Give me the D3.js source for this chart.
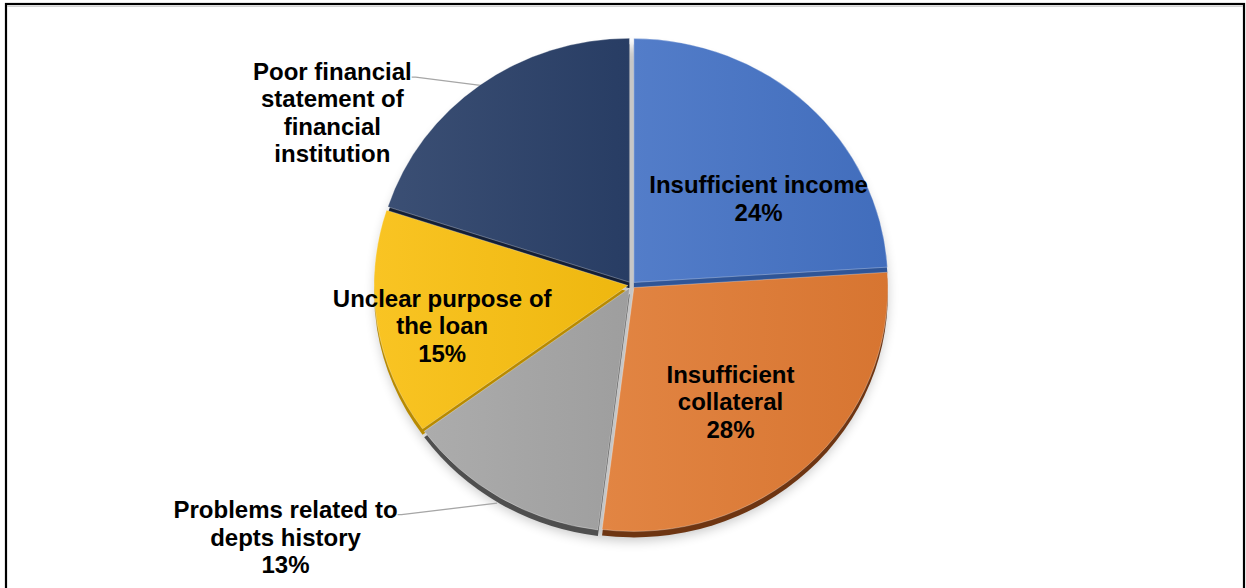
<!DOCTYPE html>
<html>
<head>
<meta charset="utf-8">
<script src="https://cdn.jsdelivr.net/npm/d3@7"></script>
<style>
  body { margin: 0; background: #fff; }
  svg { display: block; }
  .lbl { font-family: "Liberation Sans", Arial, sans-serif; font-weight: bold; font-size: 24px; fill: #000; }
</style>
</head>
<body>
<svg width="1246" height="588"></svg>
<script>
// data
var categories = ["Insufficient income", "Insufficient collateral", "Problems related to depts history",
                  "Unclear purpose of the loan", "Poor financial statement of financial institution"];
var values = [24, 28, 13, 15, 20];
var labelLines = [
  ["Insufficient income", "24%"],
  ["Insufficient", "collateral", "28%"],
  ["Problems related to", "depts history", "13%"],
  ["Unclear purpose of", "the loan", "15%"],
  ["Poor financial", "statement of", "financial", "institution"]
];
var colors = ["#4472c4", "#e07a33", "#a5a5a5", "#f8bf10", "#2a4068"];
var darkColors = ["#2f5597", "#6e3512", "#4f4f4f", "#b88a00", "#141f36"];

// layout: label block centre in pie polar coords [angle deg, radius factor], outside flag
var labelLayout = [[54.6, 0.614, false], [140.9, 0.618, false], [232.8, 1.71, true], [257.3, 0.764, false], [301, 1.374, true]];

var svg = d3.select("svg");
var cx = 631.5, cy = 285, R = 254, squash = 0.96, depth = 6, explode = 3.5, lineH = 27.5;

// frame
svg.append("rect").attr("x", 6).attr("y", 4).attr("width", 1238).attr("height", 620)
  .attr("fill", "none").attr("stroke", "#000").attr("stroke-width", 2.2);
svg.append("line").attr("x1", 7).attr("x2", 1243).attr("y1", 6.3).attr("y2", 6.3)
  .attr("stroke", "#c8c8c8").attr("stroke-width", 1);

var defs = svg.append("defs");
var blur = defs.append("filter").attr("id", "shadow").attr("x", "-20%").attr("y", "-20%").attr("width", "140%").attr("height", "140%");
blur.append("feGaussianBlur").attr("stdDeviation", 6);

colors.forEach(function(c, i) {
  var g = defs.append("linearGradient").attr("id", "grad" + i).attr("x1", 0).attr("x2", 1).attr("y1", 0).attr("y2", 0);
  g.append("stop").attr("offset", "0%").attr("stop-color", d3.interpolateRgb(c, "#fff")(0.08));
  g.append("stop").attr("offset", "100%").attr("stop-color", d3.interpolateRgb(c, "#000")(0.04));
});

var pie = d3.pie().sort(null).value(function(d) { return d; });
var arcs = pie(values);
var arc = d3.arc().innerRadius(0).outerRadius(R);

function mid(d) { return (d.startAngle + d.endAngle) / 2; }

// soft shadow under the pie
svg.append("ellipse").attr("cx", cx).attr("cy", cy + 9).attr("rx", R + 2).attr("ry", R * squash + 3)
  .attr("fill", "#000").attr("opacity", 0.22).attr("filter", "url(#shadow)");

var pieG = svg.append("g").attr("transform", "translate(" + cx + "," + cy + ") scale(1," + squash + ")");

function sliceShift(d) {
  var a = mid(d);
  return [explode * Math.sin(a), -explode * Math.cos(a) / squash];
}

// depth layer
pieG.append("g").selectAll("path").data(arcs).enter().append("path")
  .attr("d", arc)
  .attr("fill", function(d, i) { return darkColors[i]; })
  .attr("transform", function(d) { var s = sliceShift(d); return "translate(" + s[0] + "," + (s[1] + depth / squash) + ")"; });

// top faces
pieG.append("g").selectAll("path").data(arcs).enter().append("path")
  .attr("d", arc)
  .attr("fill", function(d, i) { return "url(#grad" + i + ")"; })
  .attr("stroke", "#fff").attr("stroke-width", 0.6).attr("stroke-opacity", 0.5)
  .attr("transform", function(d) { var s = sliceShift(d); return "translate(" + s[0] + "," + s[1] + ")"; });

// labels
function polar(angleRad, r) {
  return [cx + r * Math.sin(angleRad), cy - r * Math.cos(angleRad) * squash];
}

var labelG = svg.append("g");
arcs.forEach(function(d, i) {
  var lay = labelLayout[i];
  var p = polar(lay[0] * Math.PI / 180, lay[1] * R);
  var lines = labelLines[i];
  var firstY = p[1] - (lines.length - 1) / 2 * lineH;
  var t = labelG.append("text").attr("class", "lbl").attr("text-anchor", "middle");
  lines.forEach(function(s, k) {
    t.append("tspan").attr("x", p[0]).attr("y", firstY + k * lineH + 8.5).text(s);
  });
  if (lay[2]) {
    var w = t.select("tspan").node().getComputedTextLength();
    var endX = p[0] + w / 2 + 2, endY = firstY + (i === 2 ? 5 : 6);
    var edge = polar(mid(d), R + (i === 2 ? 10 : 3));
    svg.insert("polyline", "g")
      .attr("points", [[endX - 2, endY], [endX + 2, endY], edge].map(function(q) { return q.join(","); }).join(" "))
      .attr("fill", "none").attr("stroke", "#a6a6a6").attr("stroke-width", 1.3);
  }
});
</script>
</body>
</html>
